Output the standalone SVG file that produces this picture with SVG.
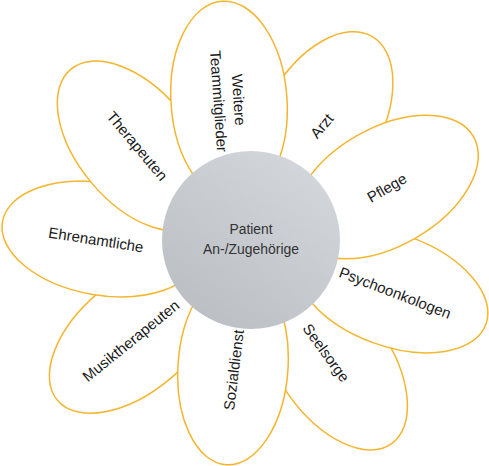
<svg xmlns="http://www.w3.org/2000/svg" width="489" height="466" viewBox="0 0 489 466">
<defs>
<style>
.petal{fill:#ffffff;stroke:#F5B52E;stroke-width:1.5}
.lbl{font-family:"Liberation Sans",Arial,sans-serif;font-size:15px;fill:#1a1a1a;text-anchor:middle}
.ctr{font-family:"Liberation Sans",Arial,sans-serif;font-size:15.5px;fill:#333333;text-anchor:middle}
</style>
<linearGradient id="gc" x1="0.8" y1="0.1" x2="0.2" y2="0.9">
<stop offset="0" stop-color="#d2d5d9"/>
<stop offset="1" stop-color="#bcc0c5"/>
</linearGradient>
</defs>
<rect width="489" height="466" fill="#ffffff"/>
<g id="arzt">
<ellipse class="petal" rx="100" ry="58" transform="translate(322,123) rotate(-60)"/>
<text class="lbl" transform="translate(322,126) rotate(-50)" y="5">Arzt</text>
</g>
<g id="seelsorge">
<ellipse class="petal" rx="100" ry="56" transform="translate(334,362) rotate(55)"/>
<text class="lbl" transform="translate(326,353) rotate(54)" y="5">Seelsorge</text>
</g>
<g id="musiktherapeuten">
<ellipse class="petal" rx="100" ry="56" transform="translate(134,336) rotate(-40)"/>
<text class="lbl" transform="translate(131,341) rotate(-39)" y="5">Musiktherapeuten</text>
</g>
<g id="ehrenamtliche">
<ellipse class="petal" rx="100" ry="56" transform="translate(101,239) rotate(10)"/>
<text class="lbl" transform="translate(96,240) rotate(9)" y="5">Ehrenamtliche</text>
</g>
<g id="therapeuten">
<ellipse class="petal" rx="100" ry="57" transform="translate(135,146) rotate(50)"/>
<text class="lbl" transform="translate(137,146) rotate(50)" y="5">Therapeuten</text>
</g>
<g id="weitere">
<ellipse class="petal" rx="100" ry="58" transform="translate(229,101) rotate(86)"/>
<text class="lbl" transform="translate(228.5,100.5) rotate(86)"><tspan x="0" y="-5">Weitere</tspan><tspan x="0" y="15">Teammitglieder</tspan></text>
</g>
<g id="sozialdienst">
<ellipse class="petal" rx="98" ry="55" transform="translate(233,367) rotate(94)"/>
<text class="lbl" transform="translate(234,370) rotate(-83)" y="5">Sozialdienst</text>
</g>
<g id="psychoonkologen">
<ellipse class="petal" rx="100" ry="56" transform="translate(392,290) rotate(20)"/>
<text class="lbl" transform="translate(395,293) rotate(21)" y="5">Psychoonkologen</text>
</g>
<g id="pflege">
<ellipse class="petal" rx="101" ry="59" transform="translate(386,187) rotate(-30)"/>
<text class="lbl" transform="translate(387,188) rotate(-30)" y="5">Pflege</text>
</g>
<g id="patient">
<circle cx="251" cy="240" r="89" fill="url(#gc)"/>
<text class="ctr" x="251" y="234" textLength="43" lengthAdjust="spacingAndGlyphs">Patient</text>
<text class="ctr" x="251" y="254" textLength="96" lengthAdjust="spacingAndGlyphs">An-/Zugehörige</text>
</g>
</svg>
